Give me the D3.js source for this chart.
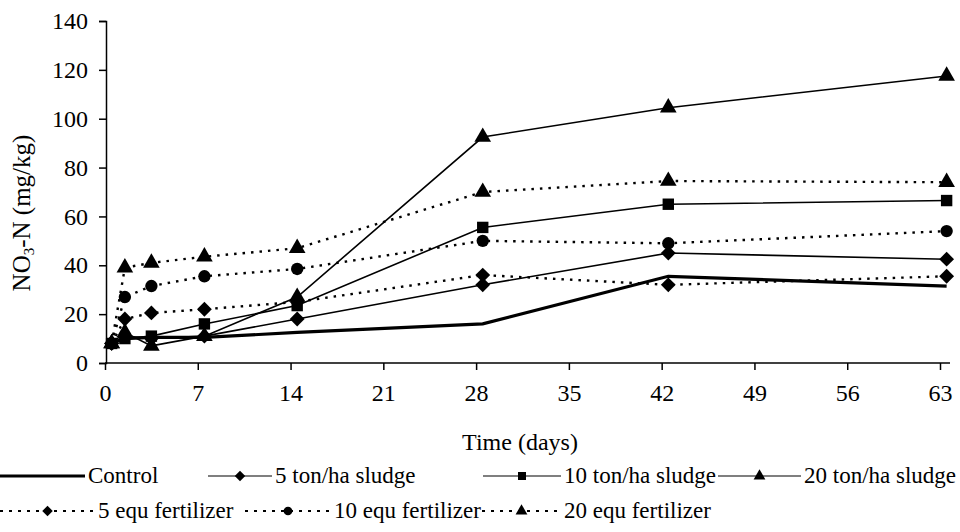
<!DOCTYPE html>
<html>
<head>
<meta charset="utf-8">
<script src="https://cdn.jsdelivr.net/npm/d3@7.9.0/dist/d3.min.js"></script>
<style>
  body { margin: 0; background: #fff; }
  text { font-family: "Liberation Serif", "Times New Roman", serif; fill: #000; }
</style>
</head>
<body>
<svg id="chart" width="960" height="532"></svg>
<script>
// days as plotted (markers sit about half a day right of the ticks)
const days = [0.5, 1.5, 3.5, 7.5, 14.5, 28.5, 42.5, 63.5];
const control = [8, 10, 10.5, 10.5, 12.5, 16, 35.5, 31.5];
const sludge5 = [8, 11, 10, 11, 18, 32, 45, 42.5];
const sludge10 = [8, 10, 11, 16, 23.5, 55.5, 65, 66.5];
const sludge20 = [8, 12.5, 7, 11, 27, 92.5, 104.5, 117.5];
const fert5 = [8, 18, 20.5, 22, 25, 36, 32, 35.5];
const fert10 = [8, 27, 31.5, 35.5, 38.5, 50, 49, 54];
const fert20 = [8, 39, 41, 43.5, 47, 70, 74.5, 74];
const xTicks = [0, 7, 14, 21, 28, 35, 42, 49, 56, 63];
const yTicks = [0, 20, 40, 60, 80, 100, 120, 140];

const series = [
  { name: 'Control', values: control, marker: null, dash: null, width: 3.2 },
  { name: '5 ton/ha sludge', values: sludge5, marker: 'diamond', dash: null, width: 1.6 },
  { name: '10 ton/ha sludge', values: sludge10, marker: 'square', dash: null, width: 1.6 },
  { name: '20 ton/ha sludge', values: sludge20, marker: 'triangle', dash: null, width: 1.6 },
  { name: '5 equ fertilizer', values: fert5, marker: 'diamond', dash: '2.5,6', width: 2.4 },
  { name: '10 equ fertilizer', values: fert10, marker: 'circle', dash: '2.5,6', width: 2.4 },
  { name: '20 equ fertilizer', values: fert20, marker: 'triangle', dash: '2.5,6', width: 2.4 }
];

const svg = d3.select('#chart');
const x = d3.scaleLinear().domain([0, 63]).range([105, 940]);
const y = d3.scaleLinear().domain([0, 140]).range([363, 21]);

function markerPath(kind, scale) {
  if (kind === 'diamond') return d3.symbol(d3.symbolSquare, 110 * scale)();
  if (kind === 'square') return d3.symbol(d3.symbolSquare, 130 * scale)();
  if (kind === 'triangle') return d3.symbol(d3.symbolTriangle, 120 * scale)();
  return d3.symbol(d3.symbolCircle, 120 * scale)();
}
function markerRotate(kind) {
  return kind === 'diamond' ? ' rotate(45)' : '';
}

// axes
const yAxis = svg.append('g')
  .attr('transform', 'translate(106,0)')
  .call(d3.axisLeft(y).tickValues(yTicks).tickSize(7).tickPadding(11));
yAxis.select('.domain').attr('stroke-width', 1.5);
yAxis.selectAll('.tick line').attr('stroke-width', 1.5);
yAxis.selectAll('.tick text').style('font-size', '24px');

const xAxis = svg.append('g')
  .attr('transform', 'translate(0,363)')
  .call(d3.axisBottom(x).tickValues(xTicks).tickSize(7).tickPadding(14).tickSizeOuter(0));
xAxis.select('.domain').attr('d', 'M' + x(0) + ',0H950').attr('stroke-width', 1.5);
xAxis.selectAll('.tick line').attr('stroke-width', 1.5);
xAxis.selectAll('.tick text').style('font-size', '24px');

svg.append('text')
  .attr('x', 520).attr('y', 450)
  .attr('text-anchor', 'middle')
  .style('font-size', '24px')
  .text('Time (days)');

const yTitle = svg.append('text')
  .attr('transform', 'translate(30,213) rotate(-90)')
  .attr('text-anchor', 'middle')
  .style('font-size', '25px');
yTitle.append('tspan').text('NO');
yTitle.append('tspan').attr('dy', 4).style('font-size', '15px').text('3');
yTitle.append('tspan').attr('dy', -4).text('-N (mg/kg)');

// lines
const line = d3.line()
  .x((d, i) => x(days[i]))
  .y((d) => y(d));

series.slice().reverse().forEach((s) => {
  svg.append('path')
    .datum(s.values)
    .attr('d', line)
    .attr('fill', 'none')
    .attr('stroke', '#000')
    .attr('stroke-width', s.width)
    .attr('stroke-dasharray', s.dash);
  if (s.marker) {
    svg.append('g').selectAll('path')
      .data(s.values)
      .join('path')
      .attr('d', markerPath(s.marker, 1))
      .attr('transform', (d, i) => `translate(${x(days[i])},${y(d)})${markerRotate(s.marker)}`)
      .attr('fill', '#000');
  }
});

// legend
const legendItems = [
  { s: series[0], x0: 0, x1: 85, row: 0 },
  { s: series[1], x0: 208, x1: 272, row: 0 },
  { s: series[2], x0: 483, x1: 561, row: 0 },
  { s: series[3], x0: 718, x1: 801, row: 0 },
  { s: series[4], x0: 0, x1: 95, row: 1 },
  { s: series[5], x0: 245, x1: 331, row: 1 },
  { s: series[6], x0: 482, x1: 561, row: 1 }
];
const rowY = [476, 511];

legendItems.forEach((it) => {
  const g = svg.append('g');
  const yy = rowY[it.row];
  g.append('line')
    .attr('x1', it.x0).attr('x2', it.x1)
    .attr('y1', yy).attr('y2', yy)
    .attr('stroke', '#000')
    .attr('stroke-width', it.s.dash ? 1.8 : (it.s.marker ? 1.2 : 3))
    .attr('stroke-dasharray', it.s.dash ? '3,6' : null);
  if (it.s.marker) {
    g.append('path')
      .attr('d', markerPath(it.s.marker, 0.5))
      .attr('transform', `translate(${(it.x0 + it.x1) / 2},${yy})${markerRotate(it.s.marker)}`)
      .attr('fill', '#000');
  }
  g.append('text')
    .attr('x', it.x1 + 3).attr('y', yy + 7)
    .style('font-size', '23px')
    .text(it.s.name);
});
</script>
</body>
</html>
